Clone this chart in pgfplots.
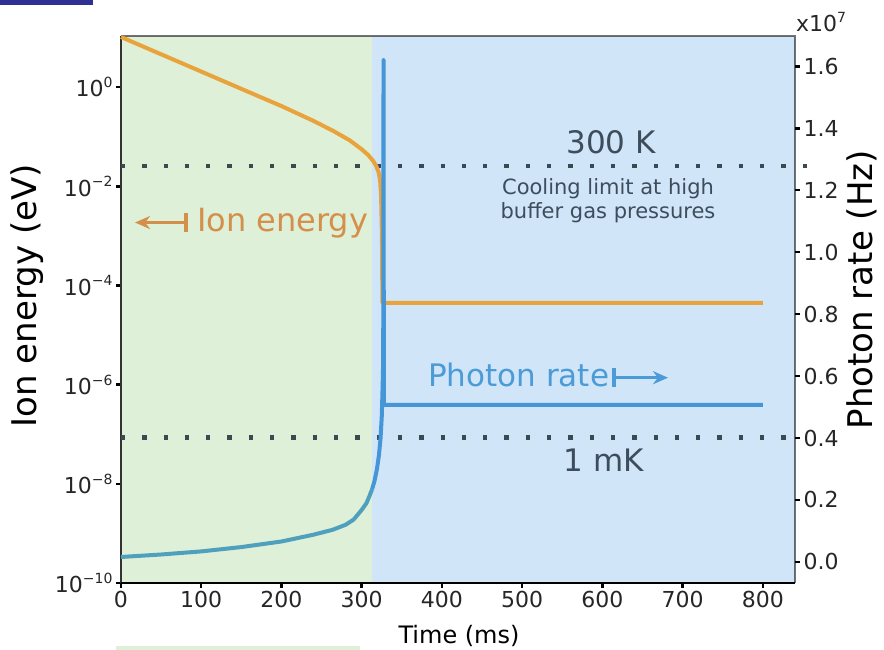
\documentclass[border=0pt]{standalone}
\usepackage{fontspec}
\setmainfont{DejaVu Sans}
\usepackage{pgfplots}
\pgfplotsset{compat=1.18}
\usetikzlibrary{arrows.meta}
\definecolor{bggreen}{HTML}{DFF0D8}
\definecolor{bgblue}{HTML}{D0E5F8}
\definecolor{eorange}{HTML}{E8A33D}
\definecolor{torange}{HTML}{D4904A}
\definecolor{pblue}{HTML}{4596D6}
\definecolor{pteal}{HTML}{4FA0BC}
\definecolor{tblue}{HTML}{4A9BD6}
\definecolor{slate}{HTML}{3D4D5C}
\definecolor{dots}{HTML}{3A4A50}
\definecolor{navy}{HTML}{2E3192}
\newcommand\sexp[1]{\raisebox{0.42em}{\fontsize{14}{14}\selectfont #1}}
\newcommand\tickfont{\fontsize{22}{26}\selectfont}

\pgfplotstableread{
t E
0 10.3
50 4.62
100 2.07
150 0.927
200 0.417
240 0.209
265 0.130
285 0.0850
300 0.0560
308 0.0430
314 0.0330
318 0.0260
321 0.0195
323 0.0130
324.2 0.0060
325.2 0.0010
325.8 4.47e-5
800 4.47e-5
}\energy

\pgfplotstableread{
t R
0 0.016
50 0.024
100 0.034
150 0.048
200 0.066
240 0.088
264 0.104
280 0.120
290 0.137
300 0.168
306 0.190
310 0.215
313 0.235
}\rateA

\pgfplotstableread{
t R
313 0.235
316 0.262
319 0.300
321.5 0.345
323.5 0.400
325 0.470
326 0.560
326.8 0.650
327.2 1.620
327.6 0.507
800 0.507
}\rateB

\begin{document}
\begin{tikzpicture}
\useasboundingbox (-121pt,-67pt) rectangle (763pt,583pt);
\fill[navy] (-121pt,578pt) rectangle (-28pt,583pt);
\fill[bggreen] (-5pt,-67pt) rectangle (239pt,-63pt);
\begin{axis}[
  at={(0pt,0pt)}, anchor=south west,
  scale only axis, width=674pt, height=547pt,
  xmin=0, xmax=840, ymode=log, ymin=1e-10, ymax=10.8,
  axis line style={draw=none},
  xtick={0,100,200,300,400,500,600,700,800},
  ytick={1e-10,1e-8,1e-6,1e-4,1e-2,1},
  yticklabels={10\sexp{−10},10\sexp{−8},10\sexp{−6},10\sexp{−4},10\sexp{−2},10\sexp{0}},
  yminorticks=false,
  xtick pos=left, ytick pos=left, tick align=outside,
  major tick length=5pt,
  every tick/.style={black, line width=2.5pt},
  ticklabel style={font=\tickfont, text=black!85},
  /pgf/number format/assume math mode=true,
  clip=false,
  xlabel={Time (ms)}, ylabel={Ion energy (eV)},
  xlabel style={at={(rel axis cs:0.5015,-0.0963)}, anchor=center, font=\fontsize{24}{28}\selectfont},
  ylabel style={at={(rel axis cs:-0.1395,0.525)}, anchor=center, font=\fontsize{34}{38}\selectfont},
]
\fill[bggreen] (axis cs:0,1e-10) rectangle (axis cs:313,10.8);
\fill[bgblue] (axis cs:313,1e-10) rectangle (axis cs:840,10.8);
\draw[black, opacity=0.55, line width=2pt] (rel axis cs:0,1) -- (rel axis cs:1,1) -- (rel axis cs:1,0);
\draw[black!80, line width=2.5pt] (rel axis cs:0,0) -- (rel axis cs:0,1);
\draw[black, line width=2.5pt] (rel axis cs:0,0) -- (rel axis cs:1,0);
\draw[dots, line width=4.3pt, dash pattern=on 4.3pt off 17pt] (axis cs:0,0.02585) -- (axis cs:861,0.02585);
\draw[dots, line width=4.3pt, dash pattern=on 4.3pt off 17pt] (axis cs:0,8.617e-8) -- (axis cs:838,8.617e-8);
\addplot[eorange, line width=4pt, line join=round] table[x=t,y=E] {\energy};
\end{axis}
\begin{axis}[
  at={(0pt,0pt)}, anchor=south west,
  scale only axis, width=674pt, height=547pt,
  xmin=0, xmax=840, ymin=-0.068, ymax=1.698,
  axis x line=none, axis y line*=right, axis line style={draw=none},
  ytick={0,0.2,0.4,0.6,0.8,1.0,1.2,1.4,1.6},
  tick align=outside, major tick length=5pt,
  every tick/.style={black, line width=2.5pt},
  ticklabel style={font=\tickfont, text=black!85},
  yticklabel style={/pgf/number format/.cd, fixed, fixed zerofill, precision=1},
  /pgf/number format/assume math mode=true,
  clip=false,
  ylabel={Photon rate (Hz)},
  ylabel style={at={(rel axis cs:1.0994,0.536)}, anchor=center, font=\fontsize{34}{38}\selectfont},
]
\addplot[pteal, line width=4pt, line join=round] table[x=t,y=R] {\rateA};
\addplot[pblue, line width=4pt, line join=round] table[x=t,y=R] {\rateB};
\node[font=\fontsize{31}{36}\selectfont, text=slate] at (rel axis cs:0.727,0.805) {300 K};
\node[font=\fontsize{21}{24}\selectfont, text=slate, align=center] at (rel axis cs:0.7226,0.699) {Cooling limit at high\\buffer gas pressures};
\node[font=\fontsize{31}{36}\selectfont, text=slate] at (rel axis cs:0.7166,0.2236) {1 mK};
\node[font=\fontsize{32}{36}\selectfont, text=torange, anchor=base west, inner sep=0pt] at (rel axis cs:0.1128,0.642) {Ion energy};
\node[font=\fontsize{31}{36}\selectfont, text=tblue, anchor=base west, inner sep=0pt] at (rel axis cs:0.4555,0.359) {Photon rate};
\draw[torange, line width=3.5pt, {Stealth[length=15pt,width=13pt]}-{Bar[width=19pt]}] (rel axis cs:0.0208,0.659) -- (rel axis cs:0.0994,0.659);
\draw[tblue, line width=3.5pt, {Bar[width=19pt]}-{Stealth[length=15pt,width=13pt]}] (rel axis cs:0.7285,0.3753) -- (rel axis cs:0.8116,0.3753);
\node[font=\tickfont, text=black!85] at (rel axis cs:1.0386,1.026) {x10\sexp{7}};
\end{axis}
\end{tikzpicture}
\end{document}
